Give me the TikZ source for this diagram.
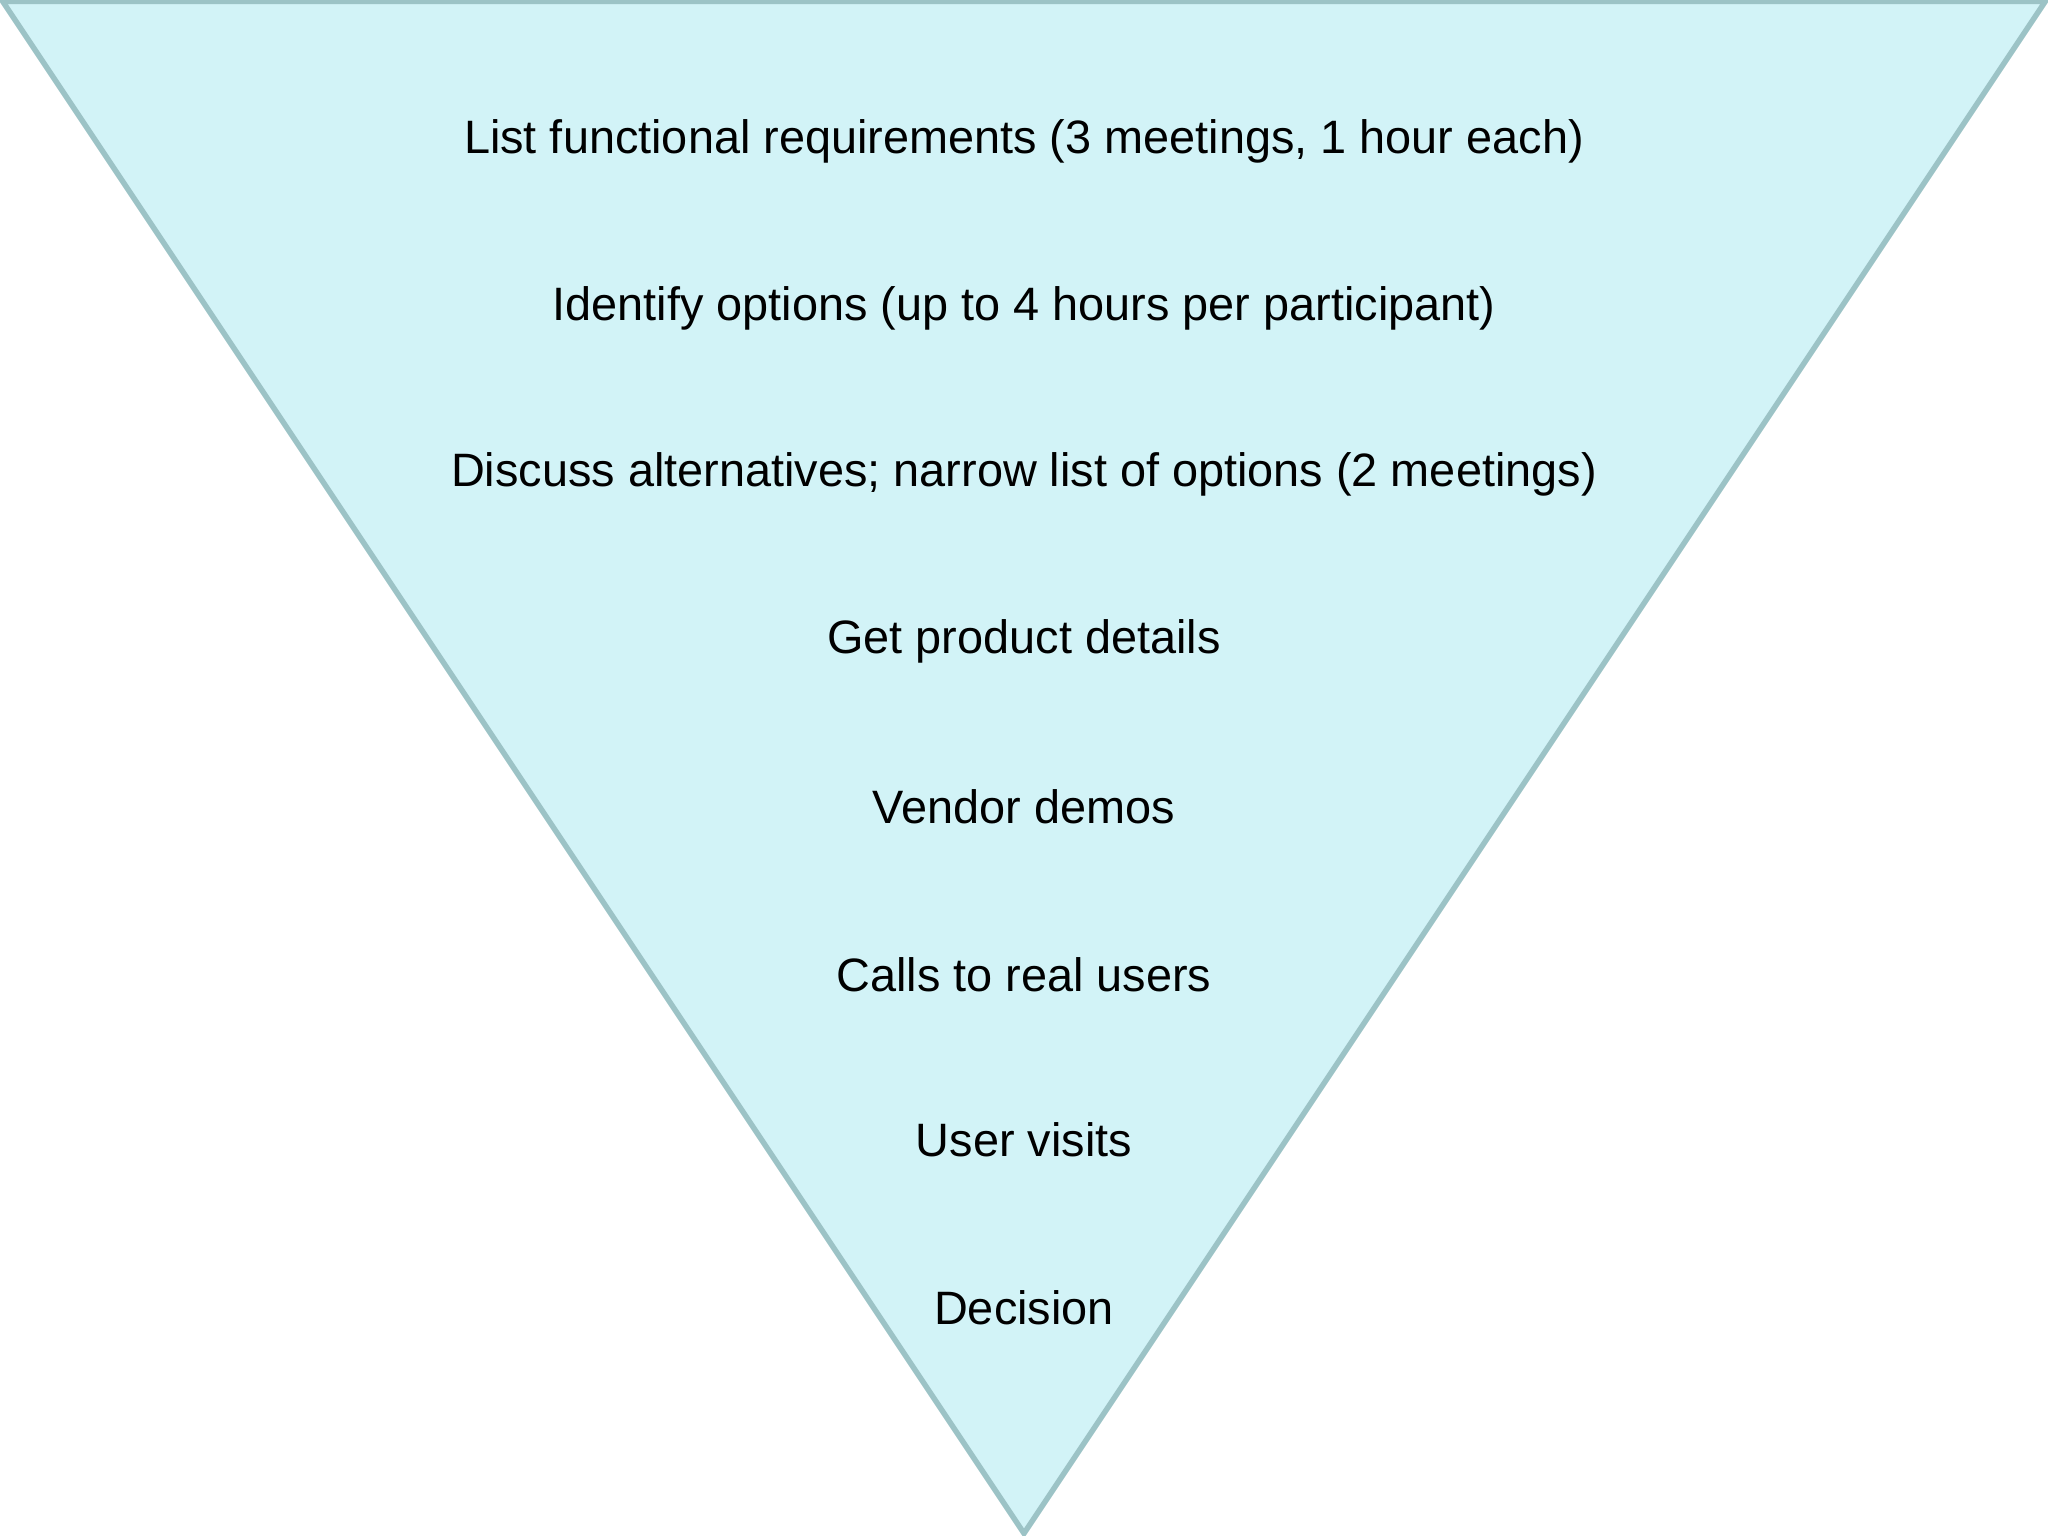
\documentclass[tikz,border=0pt]{standalone}
\usepackage{fontspec}
\setmainfont{Liberation Sans}
\definecolor{fillc}{HTML}{D2F3F7}
\definecolor{linec}{HTML}{9CC3C6}
\begin{document}
\begin{tikzpicture}[x=0.01cm,y=-0.01cm,
  lbl/.style={font=\fontsize{10.2}{12}\selectfont, text=black, anchor=center}]
\useasboundingbox (0,0) rectangle (1568,1176);
\draw[fill=fillc, draw=linec, line width=1.2pt] (2,1) -- (1566,1) -- (784,1174) -- cycle;
\node[lbl] (t1) at (784,108) {List functional requirements (3 meetings, 1 hour each)};
\node[lbl] (t2) at (784,236) {Identify options (up to 4 hours per participant)};
\node[lbl] (t3) at (784,363) {Discuss alternatives; narrow list of options (2 meetings)};
\node[lbl] (t4) at (784,491) {Get product details};
\node[lbl] (t5) at (784,618) {Vendor demos};
\node[lbl] (t6) at (784,746) {Calls to real users};
\node[lbl] (t7) at (784,873) {User visits};
\node[lbl] (t8) at (784,1001) {Decision};
\end{tikzpicture}
\end{document}
